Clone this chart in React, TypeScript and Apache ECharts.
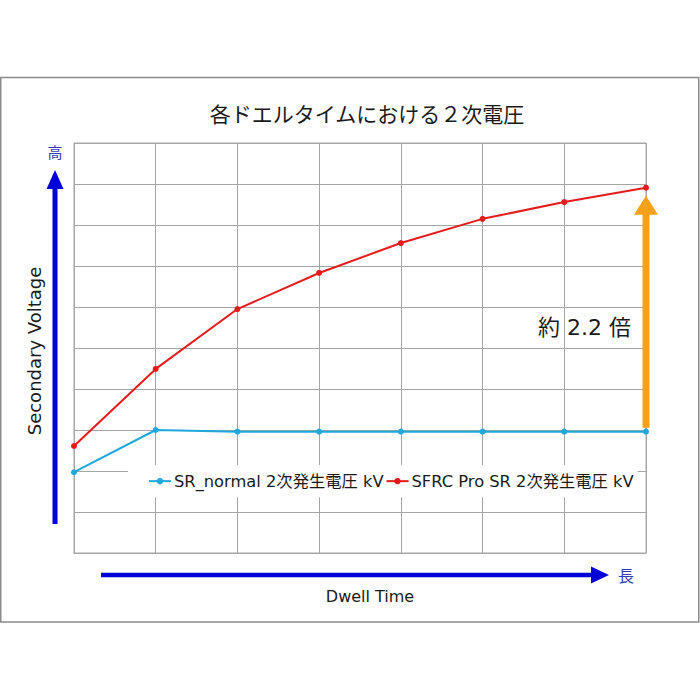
import React, { useEffect, useRef } from "react";
import * as echarts from "echarts";

const categories = ["1", "2", "3", "4", "5", "6", "7", "8"];
const srNormal = [1.97, 3.0, 2.96, 2.96, 2.96, 2.96, 2.96, 2.96];
const sfrcPro = [2.61, 4.49, 5.95, 6.83, 7.56, 8.15, 8.56, 8.91];
const seriesNames = ["SR_normal 2次発生電圧 kV", "SFRC Pro SR 2次発生電圧 kV"];
const titleText = "各ドエルタイムにおける２次電圧";
const ratioText = "約 2.2 倍";

const FONT = "'DejaVu Sans', 'Noto Sans CJK JP', sans-serif";
const JP = "'Noto Sans CJK JP', sans-serif";
const BLUE_ARROW = "#0000d8";
const GRID = "#a6a6a6";

export default function App() {
  const ref = useRef<HTMLDivElement>(null);
  useEffect(() => {
    document.body.style.margin = "0";
    const chart = echarts.init(ref.current!, null, { renderer: "svg" });
    const baseGraphic: any[] = [
      {
        type: "rect",
        shape: { x: 0.75, y: 77.5, width: 698, height: 544.5 },
        style: { fill: "none", stroke: "#8c8c8c", lineWidth: 1.5 },
        z: -10,
      },
      {
        type: "text",
        x: 367,
        y: 113,
        style: {
          text: titleText,
          fontSize: 21,
          fontFamily: JP,
          fill: "#1a1a1a",
          textAlign: "center",
          textVerticalAlign: "middle",
        },
      },
      // left arrow
      {
        type: "line",
        shape: { x1: 55, y1: 524, x2: 55, y2: 186 },
        style: { stroke: BLUE_ARROW, lineWidth: 5 },
      },
      {
        type: "polygon",
        shape: { points: [[46.5, 189], [63.5, 189], [55, 170]] },
        style: { fill: BLUE_ARROW },
      },
      {
        type: "text",
        x: 55,
        y: 151,
        style: {
          text: "高",
          fontSize: 15,
          fontFamily: JP,
          fill: "#3a3ab8",
          textAlign: "center",
          textVerticalAlign: "middle",
        },
      },
      {
        type: "text",
        x: 34,
        y: 351,
        rotation: Math.PI / 2,
        style: {
          text: "Secondary Voltage",
          fontSize: 18,
          fontFamily: FONT,
          fill: "#1a1a1a",
          textAlign: "center",
          textVerticalAlign: "middle",
        },
      },
      // bottom arrow
      {
        type: "line",
        shape: { x1: 101, y1: 575, x2: 594, y2: 575 },
        style: { stroke: BLUE_ARROW, lineWidth: 4.5 },
      },
      {
        type: "polygon",
        shape: { points: [[591, 566.5], [591, 583.5], [609, 575]] },
        style: { fill: BLUE_ARROW },
      },
      {
        type: "text",
        x: 626,
        y: 575,
        style: {
          text: "長",
          fontSize: 16,
          fontFamily: JP,
          fill: "#3a3ab8",
          textAlign: "center",
          textVerticalAlign: "middle",
        },
      },
      {
        type: "text",
        x: 370,
        y: 596,
        style: {
          text: "Dwell Time",
          fontSize: 16,
          fontFamily: FONT,
          fill: "#1a1a1a",
          textAlign: "center",
          textVerticalAlign: "middle",
        },
      },
    ];

    const option: any = {
      animation: false,
      backgroundColor: "#ffffff",
      grid: {
        left: 74,
        right: 54,
        top: 143,
        bottom: 147,
        show: true,
        borderColor: GRID,
        borderWidth: 1,
      },
      legend: {
        left: 128,
        top: 465,
        padding: [8, 4, 8, 20],
        backgroundColor: "#ffffff",
        itemWidth: 22,
        itemHeight: 8,
        itemGap: 2,
        textStyle: { fontSize: 16.3, fontFamily: FONT, color: "#1a1a1a", padding: [0, 0, 0, -2] },
        data: seriesNames,
        z: 3,
      },
      xAxis: {
        type: "category",
        data: categories,
        boundaryGap: false,
        axisLine: { show: true, lineStyle: { color: GRID, width: 1 } },
        axisTick: { show: false },
        axisLabel: { show: false },
        splitLine: { show: true, lineStyle: { color: GRID, width: 1 } },
      },
      yAxis: {
        type: "value",
        min: 0,
        max: 10,
        interval: 1,
        axisLine: { show: true, lineStyle: { color: GRID, width: 1 } },
        axisTick: { show: false },
        axisLabel: { show: false },
        splitLine: { show: true, lineStyle: { color: GRID, width: 1 } },
      },
      series: [
        {
          name: seriesNames[0],
          type: "line",
          data: srNormal,
          symbol: "circle",
          symbolSize: 6,
          color: "#1fa8dc",
          lineStyle: { width: 2, color: "#1fa8dc" },
          itemStyle: { color: "#1fa8dc" },
          z: 4,
        },
        {
          name: seriesNames[1],
          type: "line",
          data: sfrcPro,
          symbol: "circle",
          symbolSize: 6,
          color: "#e51b1b",
          lineStyle: { width: 2, color: "#e51b1b" },
          itemStyle: { color: "#e51b1b" },
          z: 4,
        },
      ],
      graphic: baseGraphic,
    };
    chart.setOption(option);

    const last = categories.length - 1;
    const pBlue = chart.convertToPixel({ seriesIndex: 0 }, [last, srNormal[last]]) as number[];
    const pRed = chart.convertToPixel({ seriesIndex: 1 }, [last, sfrcPro[last]]) as number[];
    const ax = pBlue[0];
    const yBottom = pBlue[1] - 4;
    const yTip = pRed[1] + 8;
    const headH = 19;
    const orange = "#f7a11a";
    const extra: any[] = [
      {
        type: "line",
        shape: { x1: ax, y1: yBottom, x2: ax, y2: yTip + headH - 1 },
        style: { stroke: orange, lineWidth: 7 },
        z: 5,
      },
      {
        type: "polygon",
        shape: { points: [[ax - 12, yTip + headH], [ax + 12, yTip + headH], [ax, yTip]] },
        style: { fill: orange },
        z: 5,
      },
      {
        type: "text",
        x: ax - 15,
        y: yBottom - (yBottom - yTip) * 0.43,
        style: {
          text: ratioText,
          fontSize: 22,
          fontFamily: FONT,
          fill: "#1a1a1a",
          textAlign: "right",
          textVerticalAlign: "middle",
        },
        z: 5,
      },
    ];
    chart.setOption({ graphic: [...baseGraphic, ...extra] });

    return () => chart.dispose();
  }, []);
  return (
    <div
      ref={ref}
      style={{ width: 700, height: 700, position: "absolute", left: 0, top: 0 }}
    />
  );
}
